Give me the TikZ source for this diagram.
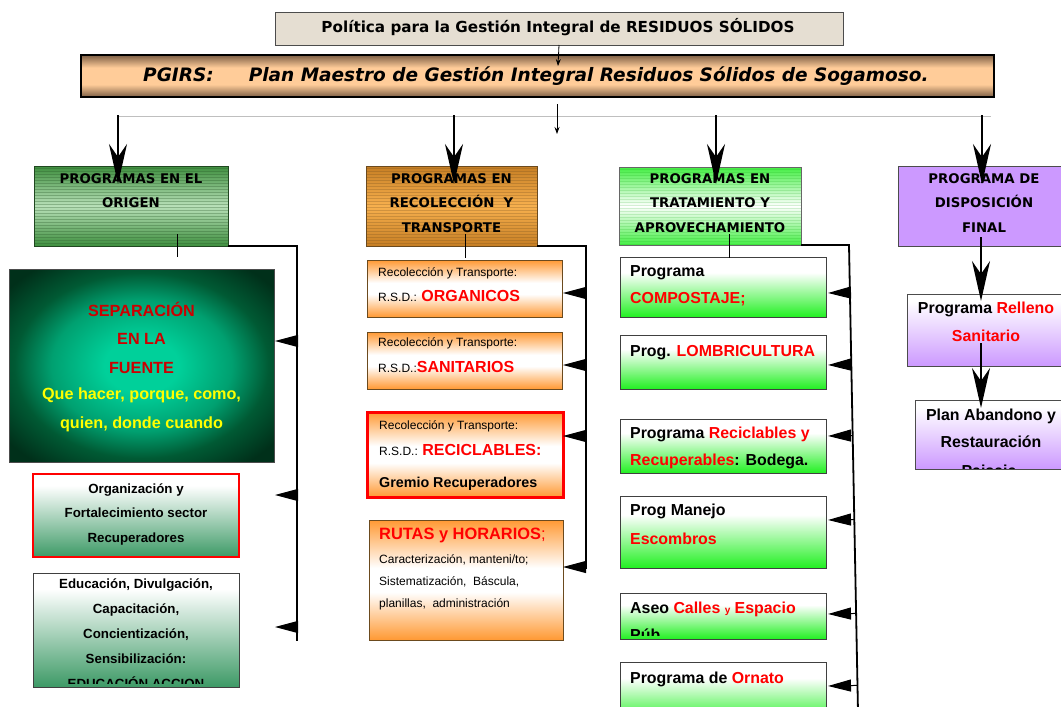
\documentclass[tikz,border=0pt]{standalone}
\usepackage{fontspec}
\setmainfont{Liberation Sans}
\newfontfamily\dv{DejaVu Sans}
\usetikzlibrary{arrows.meta,calc}
\definecolor{polfill}{HTML}{E5DED2}
\definecolor{pbrown}{HTML}{7D5F45}
\definecolor{ppeach}{HTML}{FFCC99}
\definecolor{gdark}{HTML}{3F8F3F}
\definecolor{glight}{HTML}{B8E0B8}
\definecolor{sepin}{HTML}{00D09A}
\definecolor{sepmid}{HTML}{00A070}
\definecolor{sepedge}{HTML}{005A34}
\definecolor{sepout}{HTML}{00301A}
\definecolor{sepred}{HTML}{CC0000}
\definecolor{egreen}{HTML}{3D9A66}
\definecolor{odark}{HTML}{C67E24}
\definecolor{olight}{HTML}{F7B04E}
\definecolor{obox}{HTML}{FF9933}
\definecolor{oborder}{HTML}{6B4A1E}
\definecolor{bgreen}{HTML}{22F022}
\definecolor{hgreen}{HTML}{44EE44}
\definecolor{purp}{HTML}{CC99FF}
\definecolor{rred}{HTML}{FF0000}
\definecolor{yel}{HTML}{FFFF00}
\pgfdeclareverticalshading{pgirssh}{100bp}{color(0bp)=(pbrown); color(25bp)=(pbrown); color(40bp)=(ppeach); color(60bp)=(ppeach); color(75bp)=(pbrown); color(100bp)=(pbrown)}
\pgfdeclareverticalshading{wgreen}{100bp}{color(0bp)=(egreen); color(25bp)=(egreen); color(68bp)=(white); color(75bp)=(white); color(100bp)=(white)}
\pgfdeclareverticalshading{bgsh}{100bp}{color(0bp)=(bgreen); color(25bp)=(bgreen); color(62bp)=(white); color(75bp)=(white); color(100bp)=(white)}
\pgfdeclareverticalshading{orsh}{100bp}{color(0bp)=(obox); color(25bp)=(obox); color(45bp)=(white); color(55bp)=(white); color(75bp)=(obox); color(100bp)=(obox)}
\pgfdeclareverticalshading{pusp}{100bp}{color(0bp)=(purp); color(25bp)=(purp); color(70bp)=(white); color(100bp)=(white)}
\pgfdeclareradialshading{sepsh}{\pgfpoint{0bp}{0bp}}{color(0bp)=(sepin); color(7bp)=(sepin); color(17bp)=(sepmid); color(24bp)=(sepedge); color(32bp)=(sepout); color(50bp)=(sepout)}
\newcommand\fHdr{\dv\bfseries\fontsize{13.3}{15}\selectfont}
\newcommand\fTtl{\dv\bfseries\fontsize{15.2}{17}\selectfont}
\newcommand\fPg{\dv\bfseries\itshape\fontsize{18.5}{21}\selectfont}
\newcommand\fBig{\bfseries\fontsize{15.9}{18}\selectfont}
\newcommand\fSep{\bfseries\fontsize{16.2}{18}\selectfont}
\newcommand\fMed{\bfseries\fontsize{13.3}{16}\selectfont}
\newcommand\fSm{\fontsize{12}{14}\selectfont}
\newcommand\rd[1]{\textcolor{rred}{#1}}
\newcommand\larrow[3]{\coordinate (#1) at (#2); \draw[larr] ($(#3t)!(#1)!(#3b)$) -- (#1);}
\begin{document}
\begin{tikzpicture}[x=1pt,y=-1pt,
 box/.style={draw, inner sep=0pt, outer sep=0pt, anchor=north west},
 lbl/.style={inner sep=0pt, anchor=base west},
 clbl/.style={inner sep=0pt, anchor=base},
 bigarr/.style={line width=2.6pt, -{Stealth[length=40pt,width=18pt,inset=13pt]}},
 larr/.style={line width=1pt, -{Triangle[length=23pt,width=12pt]}},
 conn/.style={line width=1.8pt},
 thinl/.style={line width=0.8pt},
 stripes/.style={path picture={\foreach \k in {2,5,...,80}{\draw[#1] ([yshift=-\k pt]path picture bounding box.north west) -- ([yshift=-\k pt]path picture bounding box.north east);}}}
]
\useasboundingbox (0,0) rectangle (1061,707);
\clip (0,0) rectangle (1061,707);

% ---- title boxes
\node[box, fill=polfill, draw=black!70, line width=0.8pt, minimum width=568pt, minimum height=33pt] (pol) at (275,12) {};
\node[clbl, font=\fTtl] (polt) at (558,32) {Política para la Gestión Integral de RESIDUOS SÓLIDOS};
\node[box, shading=pgirssh, draw=black, line width=2pt, minimum width=913pt, minimum height=42pt] (pg) at (81,55) {};
\node[lbl, font=\fPg] (pgt) at (143,81) {PGIRS:\hspace{35pt}Plan Maestro de Gestión Integral Residuos Sólidos de Sogamoso.};

% ---- column headers
\node[box, draw=gdark!50!black, line width=0.8pt, top color=gdark, bottom color=gdark, middle color=glight,
  stripes={gdark!60!black, opacity=0.3, line width=0.8pt}, minimum width=194pt, minimum height=80pt] (h1) at (34,166) {};
\node[clbl, font=\fHdr] (h1a) at (131,183) {PROGRAMAS EN EL};
\node[clbl, font=\fHdr] (h1b) at (131,207) {ORIGEN};

\node[box, draw=oborder, line width=0.8pt, top color=odark, bottom color=odark, middle color=olight,
  stripes={oborder, opacity=0.25, line width=0.8pt}, minimum width=171pt, minimum height=80pt] (h2) at (366,166) {};
\node[clbl, font=\fHdr] (h2a) at (451.5,183) {PROGRAMAS EN};
\node[clbl, font=\fHdr] (h2b) at (451.5,207) {RECOLECCIÓN\ \ Y};
\node[clbl, font=\fHdr] (h2c) at (451.5,232) {TRANSPORTE};

\node[box, draw=black!60, line width=0.8pt, top color=hgreen, bottom color=hgreen, middle color=white,
  stripes={green!60!black, opacity=0.15, line width=0.8pt}, minimum width=182pt, minimum height=78pt] (h3) at (619,167) {};
\node[clbl, font=\fHdr] (h3a) at (710,183) {PROGRAMAS EN};
\node[clbl, font=\fHdr] (h3b) at (710,207) {TRATAMIENTO Y};
\node[clbl, font=\fHdr] (h3c) at (710,232) {APROVECHAMIENTO};

\node[box, fill=purp, draw=black!70, line width=0.8pt, minimum width=175pt, minimum height=80pt] (h4) at (898,166) {};
\node[clbl, font=\fHdr] (h4a) at (984,183) {PROGRAMA DE};
\node[clbl, font=\fHdr] (h4b) at (984,207) {DISPOSICIÓN};
\node[clbl, font=\fHdr] (h4c) at (984,232) {FINAL};

% ---- column 1
\node[box, shading=sepsh, draw=black!70, line width=0.8pt, minimum width=265pt, minimum height=193pt] (sep) at (9,269) {};
\node[clbl, font=\fSep, text=sepred] (sepa) at (141.5,316) {SEPARACIÓN};
\node[clbl, font=\fSep, text=sepred] (sepb) at (141.5,344) {EN LA};
\node[clbl, font=\fSep, text=sepred] (sepc) at (141.5,373) {FUENTE};
\node[clbl, font=\fSep, text=yel] (sepd) at (141.5,399) {Que hacer, porque, como,};
\node[clbl, font=\fSep, text=yel] (sepe) at (141.5,428) {quien, donde cuando};

\node[box, shading=wgreen, draw=red, line width=2pt, minimum width=206pt, minimum height=83pt] (org) at (33,474) {};
\node[clbl, font=\fMed] (orga) at (136,493) {Organización y};
\node[clbl, font=\fMed] (orgb) at (136,517) {Fortalecimiento sector};
\node[clbl, font=\fMed] (orgc) at (136,542) {Recuperadores};

\node[box, shading=wgreen, draw=black!75, line width=1pt, minimum width=206pt, minimum height=114pt] (edu) at (33,573) {};
\node[clbl, font=\fMed] (edua) at (136,588) {Educación, Divulgación,};
\node[clbl, font=\fMed] (edub) at (136,613) {Capacitación,};
\node[clbl, font=\fMed] (educ) at (136,638) {Concientización,};
\node[clbl, font=\fMed] (edud) at (136,663) {Sensibilización:};
\begin{scope}
\clip (34,574) rectangle (238,683);
\node[clbl, font=\fMed] (edue) at (136,688) {EDUCACIÓN ACCION};
\end{scope}

% ---- column 2
\node[box, shading=orsh, draw=oborder, line width=1pt, minimum width=195pt, minimum height=57pt] (o1) at (367,260) {};
\node[lbl, font=\fSm] (o1a) at (378,276) {Recolección y Transporte:};
\node[lbl, font=\fSm] (o1b) at (378,301) {R.S.D.: \rd{\bfseries\fontsize{16}{18}\selectfont ORGANICOS}};

\node[box, shading=orsh, draw=oborder, line width=1pt, minimum width=195pt, minimum height=57pt] (o2) at (367,332) {};
\node[lbl, font=\fSm] (o2a) at (378,346) {Recolección y Transporte:};
\node[lbl, font=\fSm] (o2b) at (378,372) {R.S.D.:\rd{\bfseries\fontsize{16}{18}\selectfont SANITARIOS}};

\node[box, shading=orsh, draw=red, line width=3pt, minimum width=196pt, minimum height=85pt] (o3) at (367,412) {};
\node[lbl, font=\fSm] (o3a) at (379,429) {Recolección y Transporte:};
\node[lbl, font=\fSm] (o3b) at (379,455) {R.S.D.: \rd{\bfseries\fontsize{16}{18}\selectfont RECICLABLES:}};
\node[lbl, font=\bfseries\fontsize{14.3}{17}\selectfont] (o3c) at (379,487) {Gremio Recuperadores};

\node[box, shading=orsh, draw=oborder, line width=1pt, minimum width=194pt, minimum height=120pt] (o4) at (369,520) {};
\node[lbl, font=\fontsize{16.4}{18}\selectfont, text=rred] (o4a) at (379,539) {\bfseries RUTAS y HORARIOS\mdseries;};
\node[lbl, font=\fSm] (o4b) at (379,563) {Caracterización, manteni/to;};
\node[lbl, font=\fSm] (o4c) at (379,585) {Sistematización,\ \ Báscula,};
\node[lbl, font=\fSm] (o4d) at (379,607) {planillas,\ \ administración};

% ---- column 3
\node[box, shading=bgsh, draw=black!75, line width=1pt, minimum width=206pt, minimum height=60pt] (g1) at (620,257) {};
\node[lbl, font=\fBig] (g1a) at (630,276) {Programa};
\node[lbl, font=\fBig] (g1b) at (630,303) {\rd{COMPOSTAJE;}};

\node[box, shading=bgsh, draw=black!75, line width=1pt, minimum width=206pt, minimum height=54pt] (g2) at (620,335) {};
\node[lbl, font=\fBig] (g2a) at (630,356) {Prog. \rd{LOMBRICULTURA}};

\node[box, shading=bgsh, draw=black!75, line width=1pt, minimum width=206pt, minimum height=54pt] (g3) at (620,419) {};
\node[lbl, font=\fBig] (g3a) at (630,438) {Programa \rd{Reciclables y}};
\node[lbl, font=\fBig] (g3b) at (630,465) {\rd{Recuperables}: Bodega.};

\node[box, shading=bgsh, draw=black!75, line width=1pt, minimum width=206pt, minimum height=72pt] (g4) at (620,496) {};
\node[lbl, font=\fBig] (g4a) at (630,515) {Prog Manejo};
\node[lbl, font=\fBig] (g4b) at (630,544) {\rd{Escombros}};

\node[box, shading=bgsh, draw=black!75, line width=1pt, minimum width=206pt, minimum height=46pt] (g5) at (620,593) {};
\node[lbl, font=\fBig] (g5a) at (630,613) {Aseo \rd{Calles {\fontsize{10}{12}\selectfont y} Espacio}};
\begin{scope}
\clip (621,594) rectangle (825,635);
\node[lbl, font=\fBig] (g5b) at (630,640) {Púb};
\end{scope}

\node[box, shading=bgsh, draw=black!75, line width=1pt, minimum width=206pt, minimum height=62pt] (g6) at (620,662) {};
\node[lbl, font=\fBig] (g6a) at (630,683) {Programa de \rd{Ornato}};

% ---- column 4
\node[box, shading=pusp, draw=black!70, line width=0.8pt, minimum width=165pt, minimum height=72pt] (r1) at (907,294) {};
\node[clbl, font=\fBig] (r1a) at (986,313) {Programa \rd{Relleno}};
\node[clbl, font=\fBig] (r1b) at (986,341) {\rd{Sanitario}};

\node[box, shading=pusp, draw=black!70, line width=0.8pt, minimum width=160pt, minimum height=69pt] (r2) at (915,400) {};
\node[clbl, font=\fBig] (r2a) at (991,420) {Plan Abandono y};
\node[clbl, font=\fBig] (r2b) at (991,447) {Restauración};
\begin{scope}
\clip (916,401) rectangle (1061,468);
\node[clbl, font=\fBig] (r2c) at (989,476) {Paisaje};
\end{scope}

% ---- connectors at the top
\coordinate (pgin) at (558,66);
\draw[thinl, -{Stealth[length=7pt,width=5pt]}] (pol.south) -- (pgin);
\coordinate (gl) at (118,116);
\coordinate (gr) at (991,116);
\draw[black!25, line width=0.8pt] (gl) -- (gr);
\coordinate (ca1) at (557,104);
\coordinate (ca2) at (557,134);
\draw[thinl, -{Stealth[length=7pt,width=5pt]}] (ca1) -- (ca2);

\coordinate (a1s) at (118,115); \coordinate (a1e) at (118,184);
\coordinate (a2s) at (454,115); \coordinate (a2e) at (454,184);
\coordinate (a3s) at (716,115); \coordinate (a3e) at (716,184);
\coordinate (a4s) at (982,115); \coordinate (a4e) at (982,184);
\draw[bigarr] (a1s) -- (a1e);
\draw[bigarr] (a2s) -- (a2e);
\draw[bigarr] (a3s) -- (a3e);
\draw[bigarr] (a4s) -- (a4e);

% ---- column 1 connectors
\coordinate (s1a) at (177,234); \coordinate (s1b) at (177,257);
\draw[thinl] (s1a) -- (s1b);
\coordinate (v1t) at (297,246); \coordinate (v1b) at (297,641);
\draw[conn] (h1.south east) -- (v1t) -- (v1b);
\larrow{t11}{275,341}{v1}
\larrow{t12}{275,495}{v1}
\larrow{t13}{275,627}{v1}

% ---- column 2 connectors
\coordinate (s2a) at (465,234); \coordinate (s2b) at (465,258);
\draw[thinl] (s2a) -- (s2b);
\coordinate (v2t) at (586,246); \coordinate (v2b) at (586,569);
\draw[conn] (h2.south east) -- (v2t) -- (v2b);
\larrow{t21}{563,293}{v2}
\larrow{t22}{563,365}{v2}
\larrow{t23}{563,436}{v2}
\larrow{t24}{563,567}{v2}

% ---- column 3 connectors
\coordinate (s3a) at (729,234); \coordinate (s3b) at (729,258);
\draw[thinl] (s3a) -- (s3b);
\coordinate (v3t) at (849,245); \coordinate (v3b) at (858,712);
\draw[conn] (h3.south east) -- (v3t) -- (v3b);
\larrow{t31}{828,293}{v3}
\larrow{t32}{828,365}{v3}
\larrow{t33}{828,436}{v3}
\larrow{t34}{828,520}{v3}
\larrow{t35}{828,614}{v3}
\larrow{t36}{828,686}{v3}

% ---- column 4 connectors
\coordinate (p1s) at (981,237); \coordinate (p1e) at (981,301);
\draw[bigarr] (p1s) -- (p1e);
\coordinate (p2s) at (981,343); \coordinate (p2e) at (981,408);
\draw[bigarr] (p2s) -- (p2e);
\end{tikzpicture}
\end{document}
